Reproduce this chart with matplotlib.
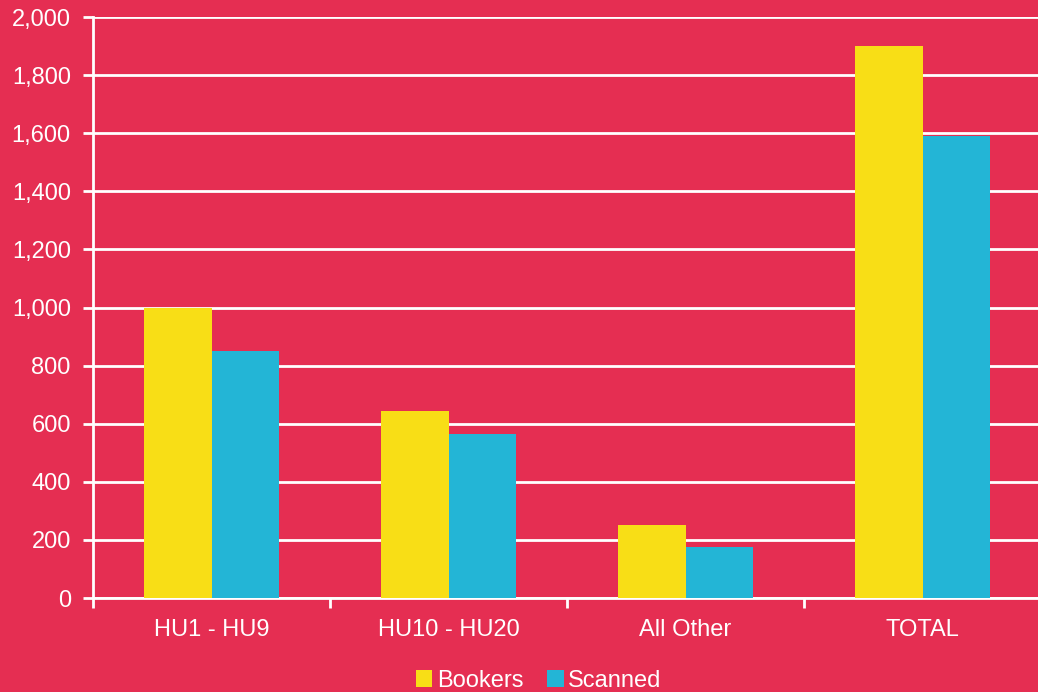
import numpy as np
import matplotlib.pyplot as plt

plt.rcParams['font.family'] = ['Liberation Sans', 'DejaVu Sans']

CATEGORIES = ["HU1 - HU9", "HU10 - HU20", "All Other", "TOTAL"]
BOOKERS = [1000, 645, 250, 1900]
SCANNED = [850, 565, 175, 1592]

BG = "#E52E52"
YELLOW = "#F8DE16"
CYAN = "#23B5D6"

fig = plt.figure(figsize=(10.38, 6.92), dpi=100, facecolor=BG)
ax = fig.add_axes([0.0896, 0.1358, 0.9134, 0.8396])
ax.set_facecolor(BG)

x = np.arange(len(CATEGORIES))
w = 0.285
ax.bar(x - w / 2, BOOKERS, w, color=YELLOW, label="Bookers", zorder=3)
ax.bar(x + w / 2, SCANNED, w, color=CYAN, label="Scanned", zorder=3)

ax.set_xlim(-0.5, len(CATEGORIES) - 0.5)
ax.set_ylim(0, 2000)
ax.set_yticks(range(0, 2001, 200))
ax.set_yticklabels([f"{v:,}" for v in range(0, 2001, 200)])
ax.grid(axis="y", color="white", linewidth=2, zorder=0)

ax.set_xticks(x)
ax.set_xticklabels(CATEGORIES)
ax.set_xticks(np.arange(len(CATEGORIES) + 1) - 0.5, minor=True)
ax.tick_params(axis="x", which="major", length=0, pad=15, labelsize=17, labelcolor="white")
ax.tick_params(axis="x", which="minor", length=7, width=2, color="white")
ax.tick_params(axis="y", length=7, width=2, color="white", labelsize=17, labelcolor="white", pad=9)

for side in ["top", "right"]:
    ax.spines[side].set_visible(False)
for side in ["left", "bottom"]:
    ax.spines[side].set_color("white")
    ax.spines[side].set_linewidth(2)

fig.legend(loc="lower center", bbox_to_anchor=(0.519, -0.03), ncol=2, frameon=False,
           fontsize=17, labelcolor="white", handlelength=0.7, handleheight=0.7,
           handletextpad=0.2, columnspacing=1.0)

fig.savefig("out.png", dpi=100, facecolor=BG)
